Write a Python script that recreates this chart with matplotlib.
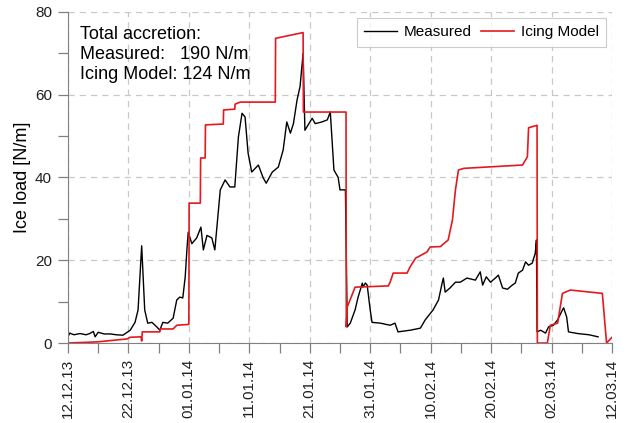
import numpy as np
import pandas as pd
import matplotlib
matplotlib.use("Agg")
import matplotlib.pyplot as plt
import matplotlib.dates as mdates

plt.rcParams['font.family'] = ['Liberation Sans', 'DejaVu Sans']

start = pd.Timestamp('2013-12-12')

# Measured ice load: day offset from 12.12.13 and value in N/m
meas_day = [0, 0.3, 1, 2, 3, 3.6, 4.2, 4.5, 5, 6,
            7, 8, 9.1, 10.3, 11.1, 11.6, 12.2, 12.7, 13.2, 13.9,
            14.7, 15.2, 15.7, 16.5, 17.4, 18.0, 18.5, 19.0, 19.4, 19.7,
            19.9, 20.5, 21.3, 22.0, 22.4, 23.0, 23.8, 24.3, 25.2, 26.0,
            26.8, 27.6, 28.2, 28.8, 29.3, 29.8, 30.4, 31.5, 32.3, 32.8,
            33.8, 34.8, 35.6, 36.2, 36.8, 37.3, 37.9, 38.4, 38.9, 39.2,
            39.7, 40.4, 40.9, 42.0, 42.9, 43.4, 43.7, 44.0, 44.7, 45.0,
            45.9, 46.2, 46.7, 47.5, 48.0, 48.7, 48.8, 49.2, 49.5, 50.0,
            50.3, 51.7, 53.3, 54.1, 54.6, 56.6, 58.3, 59.1, 60.4, 61.3,
            61.9, 62.1, 62.4, 63.2, 64.1, 64.9, 66.0, 67.4, 68.2, 68.6,
            69.2, 69.9, 70.7, 71.2, 71.9, 72.7, 73.5, 74.0, 74.5, 75.2,
            75.7, 76.2, 76.8, 77.3, 77.5, 77.6, 78.2, 79.0, 79.5, 80.3,
            81.0, 81.8, 82.0, 82.5, 82.8, 84.3, 86.2, 87.7]
meas_val = [1.5, 2.4, 2.0, 2.3, 2.0, 2.3, 2.8, 1.5, 2.6, 2.2,
            2.2, 2.0, 1.9, 3.1, 5.0, 8.0, 23.5, 8.0, 4.8, 5.0,
            3.9, 3.1, 5.0, 4.8, 6.0, 10.4, 11.1, 10.9, 16.0, 23.0,
            26.8, 24.0, 25.4, 28.0, 22.5, 26.0, 25.4, 22.5, 37.0, 39.4,
            37.7, 37.7, 49.8, 55.5, 54.6, 45.9, 41.3, 43.0, 39.9, 38.6,
            41.3, 42.5, 46.6, 53.4, 50.7, 53.0, 58.7, 62.0, 70.0, 51.4,
            52.6, 54.3, 53.0, 53.4, 53.9, 55.8, 49.0, 41.8, 40.0, 37.0,
            37.0, 3.9, 4.8, 8.0, 11.1, 14.5, 13.5, 14.5, 14.0, 8.0,
            5.0, 4.8, 4.3, 4.8, 2.7, 3.1, 3.6, 5.6, 8.0, 10.4,
            14.5, 15.7, 12.3, 13.3, 14.7, 14.7, 15.7, 15.2, 17.2, 14.0,
            16.0, 14.7, 15.7, 16.4, 13.3, 13.0, 14.0, 14.5, 16.9, 17.6,
            19.6, 18.8, 19.3, 21.7, 24.9, 2.7, 3.1, 2.4, 3.9, 4.3,
            5.6, 8.0, 8.5, 6.3, 2.7, 2.3, 2.0, 1.5]

# Icing model ice load
model_day = [0, 5, 9.8, 10.3, 12.1, 12.2, 12.3, 15.2, 15.3, 17.4,
             18.0, 20.0, 20.05, 21.9, 21.95, 22.7, 22.75, 25.7, 25.75, 27.6,
             27.65, 28.5, 34.3, 34.35, 38.9, 38.95, 46.0, 46.05, 46.2, 46.8,
             47.5, 53.0, 53.3, 53.8, 56.1, 56.6, 57.5, 59.4, 59.9, 61.6,
             62.9, 63.6, 64.1, 64.6, 65.5, 75.2, 76.0, 76.2, 77.6, 77.65,
             79.3, 79.8, 81.0, 81.8, 83.1, 88.4, 89.1, 90]
model_val = [0.0, 0.3, 1.0, 1.4, 1.5, 0.5, 2.7, 2.7, 3.4, 3.4,
             4.3, 4.5, 33.8, 33.8, 44.7, 44.7, 52.7, 52.9, 56.3, 56.5,
             57.7, 58.2, 58.2, 73.6, 75.0, 55.8, 55.8, 3.9, 8.7, 10.9,
             13.5, 13.8, 14.7, 16.9, 16.9, 18.4, 20.5, 22.0, 23.2, 23.3,
             24.9, 29.7, 37.0, 41.8, 42.2, 43.0, 45.0, 52.0, 52.6, 0.0,
             0.0, 4.3, 4.8, 12.0, 12.8, 12.0, 0.0, 1.4]

tick_days = [0, 10, 20, 30, 40, 50, 60, 70, 80, 90]

meas_t = start + pd.to_timedelta(meas_day, unit='D')
model_t = start + pd.to_timedelta(model_day, unit='D')

fig = plt.figure(figsize=(6.29, 4.23), dpi=100)
ax = fig.add_axes([0.108, 0.189, 0.865, 0.783])

ax.plot(meas_t, meas_val, color='black', lw=1.0, label='Measured')
ax.plot(model_t, model_val, color='#e3191f', lw=1.2, label='Icing Model')

ax.set_xlim(start, start + pd.Timedelta(days=90))
ax.set_ylim(0, 80)
ax.set_yticks([0, 20, 40, 60, 80])
ax.set_yticks([10, 30, 50, 70], minor=True)
ax.set_xticks(start + pd.to_timedelta(tick_days, unit='D'))
ax.set_xticks(start + pd.to_timedelta(np.arange(5, 90, 10), unit='D'), minor=True)
ax.xaxis.set_major_formatter(mdates.DateFormatter('%d.%m.%y'))
plt.setp(ax.get_xticklabels(), rotation=90)
ax.tick_params(labelsize=11, colors='#808080', labelcolor='#202020', which='both',
               length=7, width=0.9, pad=4.5)

for s in ['top', 'right']:
    ax.spines[s].set_visible(False)
for s in ['left', 'bottom']:
    ax.spines[s].set_color('#808080')

ax.grid(True, which='major', linestyle=(0, (5, 4)), color='#c8c8c8', lw=0.9)
ax.set_ylabel('Ice load [N/m]', fontsize=13)
ax.yaxis.set_label_coords(-0.068, 0.5)

ax.text(0.022, 0.957, 'Total accretion:\nMeasured:   190 N/m\nIcing Model: 124 N/m',
        transform=ax.transAxes, va='top', ha='left', fontsize=13, linespacing=1.22)

leg = ax.legend(loc='upper right', ncol=2, fontsize=11, fancybox=False,
                handlelength=2.15, columnspacing=0.65, handletextpad=0.42,
                borderpad=0.48, borderaxespad=0.4)
leg.get_frame().set_edgecolor('#c0c0c0')
leg.get_frame().set_linewidth(0.8)

fig.savefig('out.png', dpi=100)
